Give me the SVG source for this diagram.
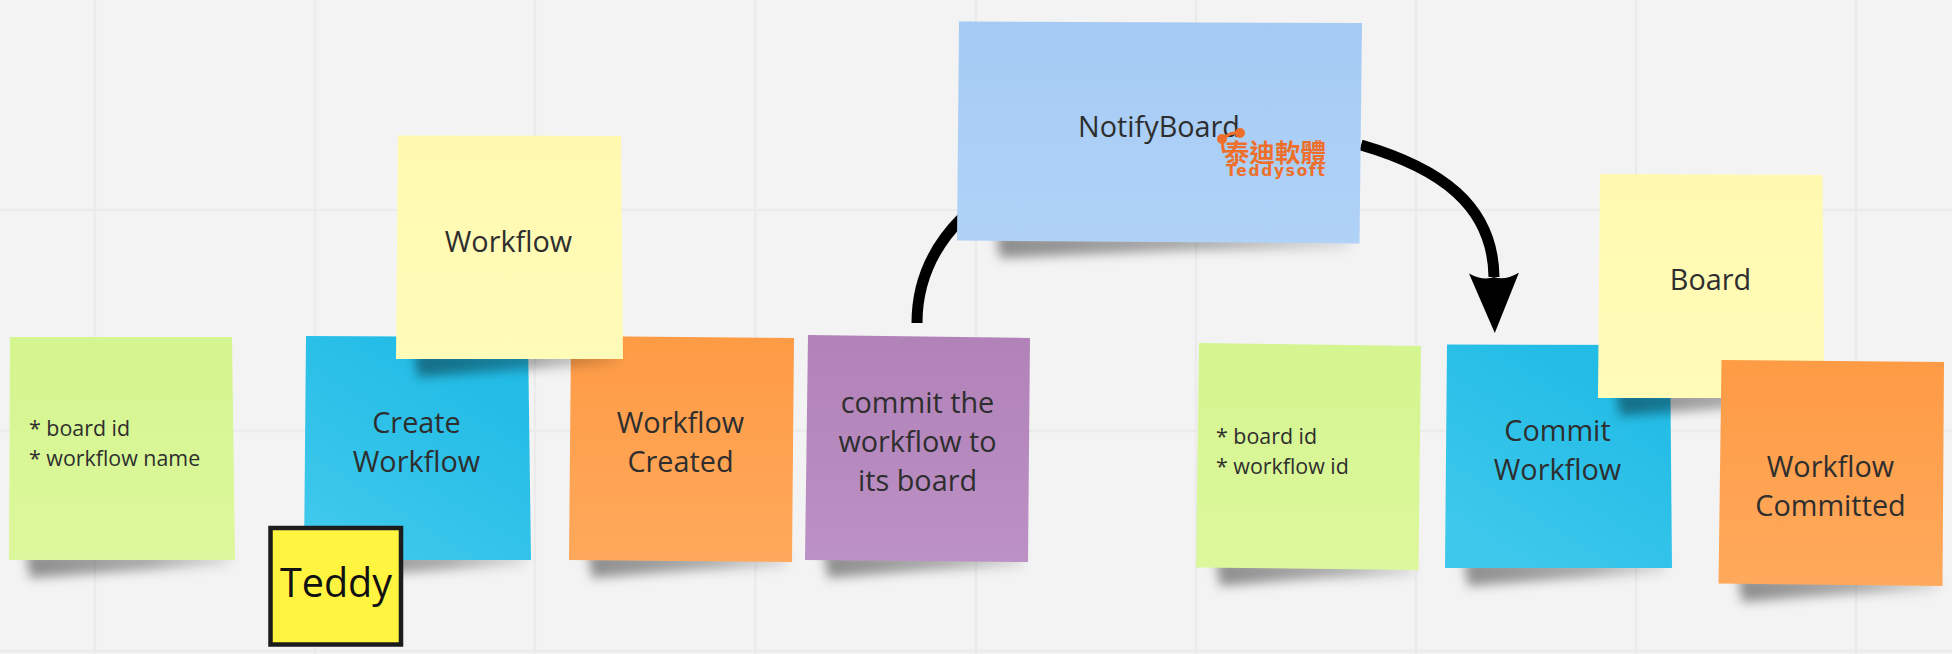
<svg xmlns="http://www.w3.org/2000/svg" width="1952" height="654" viewBox="0 0 1952 654">
<style>
text{font-family:"Open Sans","Noto Sans","Noto Sans CJK TC",sans-serif;fill:#2e2e2e}
.l{font-size:28.800px;text-anchor:middle}
.s{font-size:21.400px}
.sh{fill:url(#shade);filter:url(#blur)}
.grid line{stroke:#ebebeb;stroke-width:2.500}
.wire{fill:none;stroke:#000;stroke-width:11}
.logo{fill:#ee6f2b}
</style>
<defs>
<filter id="blur" x="-20%" y="-100%" width="140%" height="300%"><feGaussianBlur stdDeviation="5.500"/></filter>
<linearGradient id="shade" x1="0" y1="0" x2="1" y2="0"><stop offset="0" stop-color="#000" stop-opacity=".42"/><stop offset=".6" stop-color="#000" stop-opacity=".3"/><stop offset="1" stop-color="#000" stop-opacity=".08"/></linearGradient>
<linearGradient id="green" x1="0" y1="0" x2="0" y2="1"><stop offset="0" stop-color="#d4f58f"/><stop offset="1" stop-color="#ddf89c"/></linearGradient>
<linearGradient id="blue" x1="0.800" y1="0.200" x2="0.300" y2="1"><stop offset="0" stop-color="#22bce6"/><stop offset="1" stop-color="#3ec8ec"/></linearGradient>
<linearGradient id="yellow" x1="0" y1="0" x2="0" y2="1"><stop offset="0" stop-color="#fff9b0"/><stop offset="1" stop-color="#fffbb8"/></linearGradient>
<linearGradient id="orange" x1="0" y1="0" x2="0" y2="1"><stop offset="0" stop-color="#fe9b45"/><stop offset="1" stop-color="#ffa95c"/></linearGradient>
<linearGradient id="purple" x1="0" y1="0" x2="0" y2="1"><stop offset="0" stop-color="#b182b8"/><stop offset="1" stop-color="#bc91c5"/></linearGradient>
<linearGradient id="sky" x1="0" y1="0" x2="0" y2="1"><stop offset="0" stop-color="#a5cbf4"/><stop offset="1" stop-color="#b0d2f7"/></linearGradient>
<marker id="head" markerUnits="userSpaceOnUse" viewBox="0 -25 60 50" markerWidth="60" markerHeight="50" refX="4" refY="0" orient="auto"><path d="M0,-25Q8,-11 4,0Q8,11 0,25L60,0Z" fill="#000"/></marker>
</defs>
<rect width="1952" height="654" fill="#f3f3f3"/>
<g class="grid">
<line x1="95" y1="0" x2="95" y2="654"/><line x1="315" y1="0" x2="315" y2="654"/><line x1="535" y1="0" x2="535" y2="654"/><line x1="755.500" y1="0" x2="755.500" y2="654"/><line x1="976" y1="0" x2="976" y2="654"/><line x1="1196" y1="0" x2="1196" y2="654"/><line x1="1416" y1="0" x2="1416" y2="654"/><line x1="1636" y1="0" x2="1636" y2="654"/><line x1="1856" y1="0" x2="1856" y2="654"/>
<line x1="0" y1="210" x2="1952" y2="210"/><line x1="0" y1="431" x2="1952" y2="431"/><line x1="0" y1="651" x2="1952" y2="651"/>
</g>
<g id="connectors">
<path class="wire" d="M917,323C917,280 935,245 962,218"/>
<path class="wire" marker-end="url(#head)" d="M1361,145C1440,168 1493,205 1494,277"/>
</g>
<g id="note-fields-1">
<path class="sh" d="M26,552L232,552L228,565L150,570L30,578Z"/>
<polygon fill="url(#green)" points="10,337 232,337 235,560 9,560"/>
<text class="s" x="29" y="435.500">* board id</text><text class="s" x="29" y="465.500">* workflow name</text>
</g>
<g id="note-create-workflow">
<path class="sh" d="M322,552L528,552L524,565L445,570L326,578Z"/>
<polygon fill="url(#blue)" points="306,336 528,337 531,560 304,560"/>
<text class="l" x="416.500" y="432.500">Create</text><text class="l" x="416.500" y="472">Workflow</text>
</g>
<g id="note-workflow-created">
<path class="sh" d="M588,552L790,554L786,567L700,570L592,578Z"/>
<polygon fill="url(#orange)" points="571,336 794,338 792,562 569,560"/>
<text class="l" x="680.500" y="432.500">Workflow</text><text class="l" x="680.500" y="472">Created</text>
</g>
<g id="note-workflow">
<path class="sh" d="M414,351L620,351L616,364L530,369L418,377Z"/>
<polygon fill="url(#yellow)" points="398,135.500 621,136 623,359 396,359"/>
<text class="l" x="508.500" y="251.500">Workflow</text>
</g>
<g id="note-commit">
<path class="sh" d="M824,552L1025,554L1021,567L935,570L828,578Z"/>
<polygon fill="url(#purple)" points="808,335 1030,338 1028,562 805,560"/>
<text class="l" x="917.500" y="413">commit the</text><text class="l" x="917.500" y="452">workflow to</text><text class="l" x="917.500" y="491">its board</text>
</g>
<g id="note-notify-board">
<path class="sh" d="M996,233L1352,236L1348,249L1200,250L1000,258Z"/>
<polygon fill="url(#sky)" points="959,21.500 1362,23 1359.500,243.500 957,240.500"/>
<text class="l" x="1159" y="136.500">NotifyBoard</text>
</g>
<g id="logo">
<path d="M1224,153Q1220,140 1228,135Q1235,131 1243,135" fill="none" stroke="#ee6f2b" stroke-width="3"/>
<circle class="logo" cx="1222" cy="139" r="5"/><circle class="logo" cx="1240" cy="133" r="5"/>
<text style="fill:#ee6f2b;font-family:'Noto Sans CJK TC',sans-serif;font-weight:700" font-size="25.500" x="1224" y="162">泰迪軟體</text>
<text style="fill:#ee6f2b;font-family:'DejaVu Sans',sans-serif;font-weight:700" font-size="15.500" letter-spacing="1.700" x="1226" y="175.500">Teddysoft</text>
</g>
<g id="note-fields-2">
<path class="sh" d="M1216,560L1416,563L1412,576L1325,578L1220,586Z"/>
<polygon fill="url(#green)" points="1199,343 1421,346 1418.500,570 1196,567.500"/>
<text class="s" x="1216" y="443.500">* board id</text><text class="s" x="1216" y="473.500">* workflow id</text>
</g>
<g id="note-commit-workflow">
<path class="sh" d="M1464,560L1668,560L1664,573L1580,578L1468,586Z"/>
<polygon fill="url(#blue)" points="1447,344.500 1670,345 1672,568 1445,568"/>
<text class="l" x="1557.500" y="441">Commit</text><text class="l" x="1557.500" y="479.500">Workflow</text>
</g>
<g id="note-board">
<path class="sh" d="M1616,390L1822,390L1818,403L1730,408L1620,416Z"/>
<polygon fill="url(#yellow)" points="1600,174 1822.500,175 1824.500,398 1598,398"/>
<text class="l" x="1710.500" y="289.500">Board</text>
</g>
<g id="note-workflow-committed">
<path class="sh" d="M1738,576L1940,578L1936,591L1850,594L1742,602Z"/>
<polygon fill="url(#orange)" points="1721.500,360 1944,362 1942.500,586 1718.500,583.500"/>
<text class="l" x="1830.500" y="477">Workflow</text><text class="l" x="1830.500" y="516">Committed</text>
</g>
<g id="actor-teddy">
<rect x="270.500" y="528" width="130.500" height="116.500" fill="#fff541" stroke="#1c1c1c" stroke-width="4.500"/>
<text x="336" y="597" text-anchor="middle" font-size="39.500" style="fill:#111">Teddy</text>
</g>
</svg>
